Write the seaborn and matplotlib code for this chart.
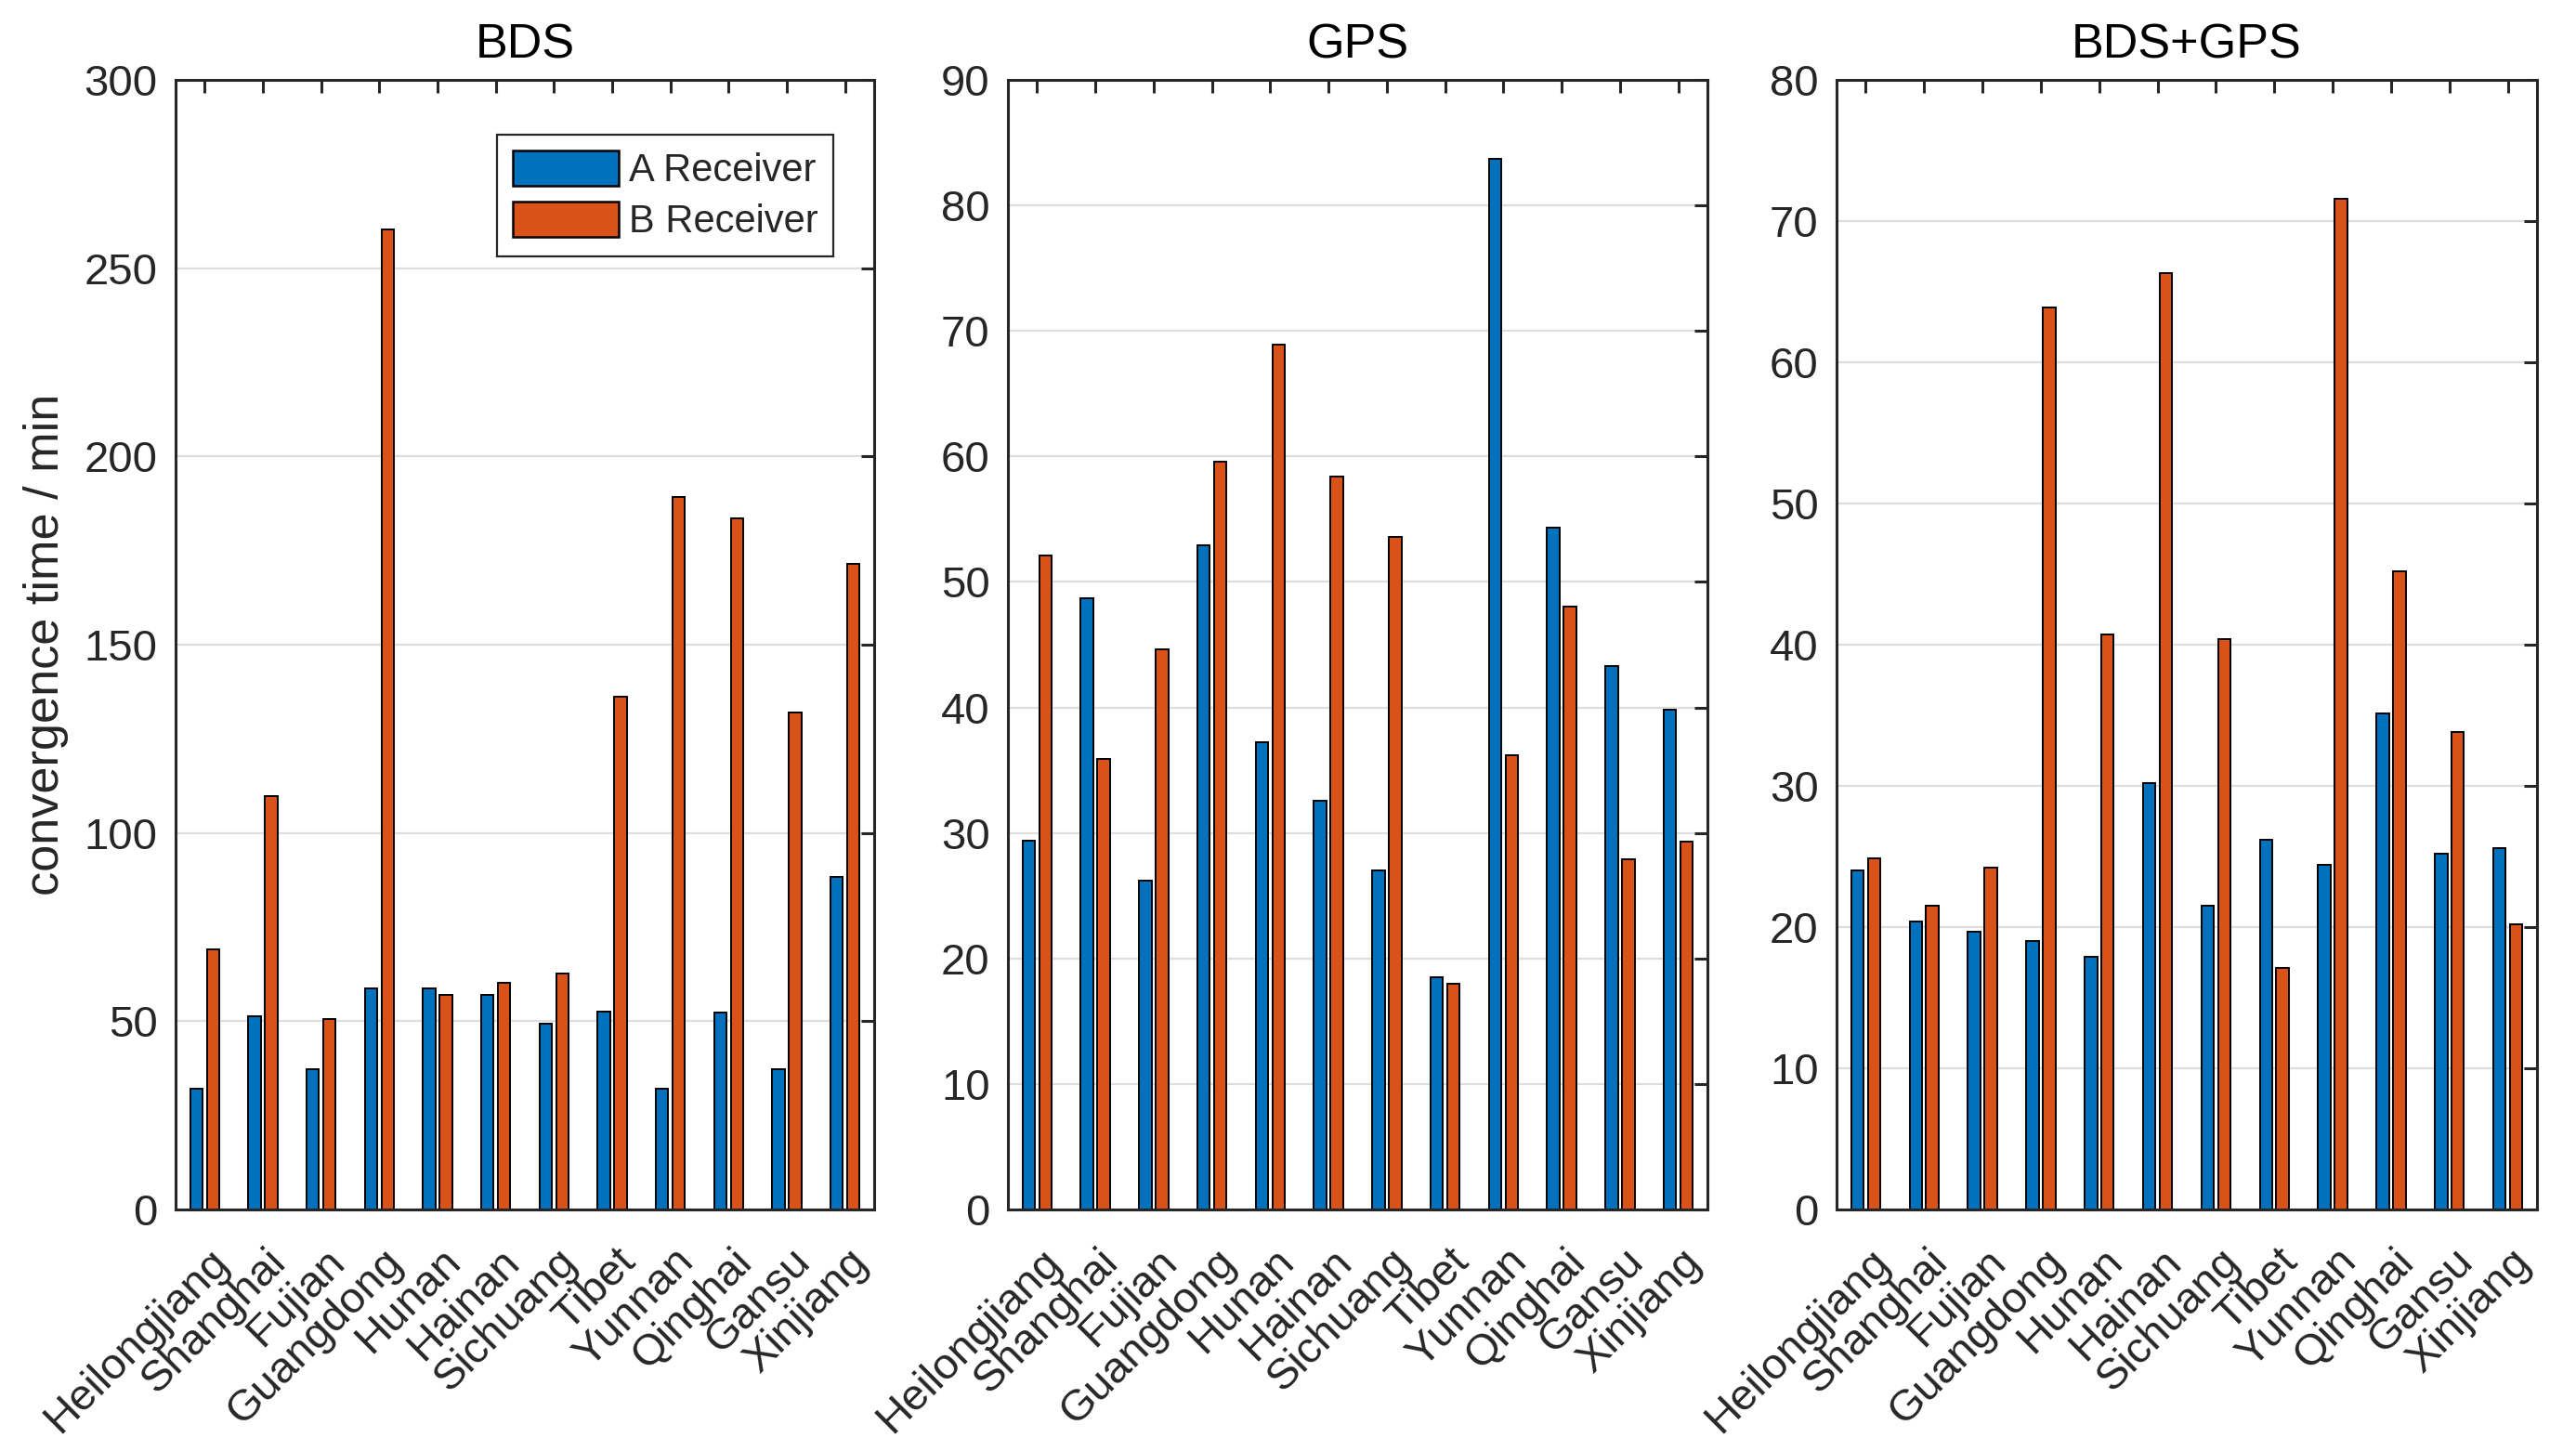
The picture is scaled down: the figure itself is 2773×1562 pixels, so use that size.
# Convergence time of A/B receivers per province, BDS / GPS / BDS+GPS

import numpy as np
import pandas as pd
import matplotlib
matplotlib.use("Agg")
import matplotlib.pyplot as plt
import matplotlib.transforms as mtransforms
from matplotlib.patches import Patch
import seaborn as sns

# Data

provinces = ['Heilongjiang', 'Shanghai', 'Fujian', 'Guangdong', 'Hunan', 'Hainan',
             'Sichuang', 'Tibet', 'Yunnan', 'Qinghai', 'Gansu', 'Xinjiang']
receivers = ['A Receiver', 'B Receiver']

bds_a = [32.1, 51.4, 37.2, 58.6, 58.6, 57.1, 49.3, 52.5, 32.1, 52.3, 37.2, 88.2]
bds_b = [69.0, 109.8, 50.6, 260.2, 56.9, 60.1, 62.7, 136.2, 189.3, 183.6, 132.1, 171.4]

gps_a = [29.4, 48.7, 26.2, 52.9, 37.2, 32.6, 27.0, 18.5, 83.7, 54.3, 43.3, 39.8]
gps_b = [52.1, 35.9, 44.6, 59.6, 68.9, 58.4, 53.6, 18.0, 36.2, 48.0, 27.9, 29.3]

combo_a = [24.0, 20.4, 19.7, 19.0, 17.9, 30.2, 21.5, 26.2, 24.4, 35.1, 25.2, 25.6]
combo_b = [24.9, 21.5, 24.2, 63.9, 40.7, 66.3, 40.4, 17.1, 71.6, 45.2, 33.8, 20.2]

titles = ['BDS', 'GPS', 'BDS+GPS']
y_max = [300, 90, 80]
y_step = [50, 10, 10]

colors = ['#0072BD', '#D95319']
axis_color = '#262626'

# Style

sns.set_style("white")
plt.rcParams['font.family'] = ['Liberation Sans', 'DejaVu Sans']

DPI = 200
fig = plt.figure(figsize=(2773 / DPI, 1562 / DPI), dpi=DPI)

bottom = 1 - 1302 / 1562
height = (1302 - 86) / 1562
lefts = [189, 1085, 1977]
widths = [752, 753, 754]

series = [(bds_a, bds_b), (gps_a, gps_b), (combo_a, combo_b)]

label_shift = mtransforms.ScaledTranslation(27 / DPI, -58 / DPI, fig.dpi_scale_trans)

for i in range(3):
    ax = fig.add_axes([lefts[i] / 2773, bottom, widths[i] / 2773, height])
    a, b = series[i]

    df = pd.DataFrame({
        'province': provinces * 2,
        'receiver': [receivers[0]] * len(provinces) + [receivers[1]] * len(provinces),
        'time': list(a) + list(b),
    })

    sns.barplot(
        data=df,
        x='province',
        y='time',
        hue='receiver',
        hue_order=receivers,
        palette=colors,
        saturation=1,
        width=0.57,
        gap=0.25,
        edgecolor='black',
        linewidth=0.7,
        errorbar=None,
        legend=False,
        ax=ax,
        zorder=2,
    )

    ax.set_xlim(-0.5, len(provinces) - 0.5)
    ax.set_ylim(0, y_max[i])
    ax.set_yticks(np.arange(0, y_max[i] + 1, y_step[i]))

    ax.yaxis.grid(True, color='#dedede', linewidth=0.8)
    ax.xaxis.grid(False)
    ax.set_axisbelow(True)

    for sp in ax.spines.values():
        sp.set_visible(True)
        sp.set_color(axis_color)
        sp.set_linewidth(1.1)

    ax.tick_params(direction='in', length=5, width=1.1, top=True, right=True,
                   color=axis_color, labelcolor=axis_color, labelsize=17)
    ax.tick_params(axis='y', pad=7)
    ax.tick_params(axis='x', pad=0)

    for lab in ax.get_xticklabels():
        lab.set_rotation(45)
        lab.set_ha('right')
        lab.set_va('baseline')
        lab.set_rotation_mode('anchor')
        lab.set_transform(lab.get_transform() + label_shift)

    ax.set_xlabel('')
    if i == 0:
        ax.set_ylabel('convergence time / min', fontsize=18.8, color=axis_color, labelpad=6)
    else:
        ax.set_ylabel('')

    ax.set_title(titles[i], fontsize=18.8, pad=8.3, color='black')

    if i == 0:
        handles = [Patch(facecolor=c, edgecolor='black', linewidth=0.9, label=r)
                   for c, r in zip(colors, receivers)]
        leg = ax.legend(
            handles=handles,
            loc='upper right',
            bbox_to_anchor=(0.9415, 0.9515),
            borderaxespad=0,
            fontsize=15,
            frameon=True,
            fancybox=False,
            framealpha=1,
            edgecolor=axis_color,
            handlelength=2.75,
            handleheight=1.05,
            handletextpad=0.25,
            labelspacing=0.3,
            borderpad=0.4,
        )
        leg.get_frame().set_linewidth(0.8)

fig.savefig('out.png', dpi=DPI, facecolor='white')
